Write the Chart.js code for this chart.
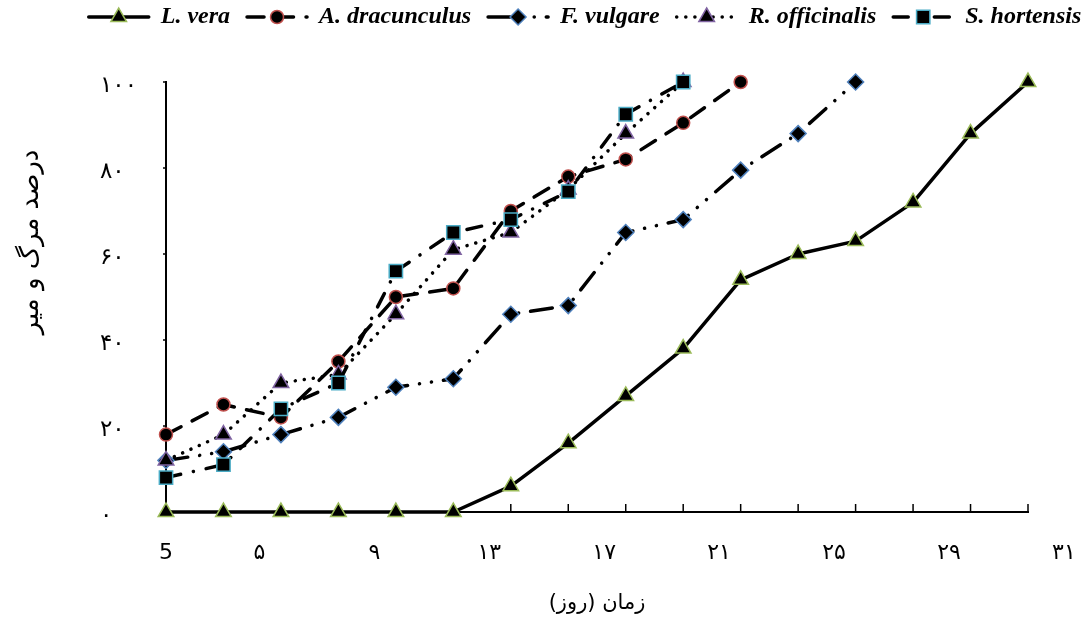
<!DOCTYPE html>
<html><head><meta charset="utf-8">
<script src="https://cdn.jsdelivr.net/npm/chart.js@4.4.1/dist/chart.umd.min.js"></script>
<style>html,body{margin:0;padding:0;background:#fff;overflow:hidden}#wrap{width:1088px;height:628px}</style>
</head><body><div id="wrap"><canvas id="c" width="1088" height="628"></canvas></div>
<script>
// ---- data ----
const days = [1,3,5,7,9,11,13,15,17,19,21,23,25,27,29,31];
const seriesNames = ['L. vera','A. dracunculus','F. vulgare','R. officinalis','S. hortensis'];
const lVera = [0,0,0,0,0,0,6,16,27,38,54,60,63,72,88,100];
const aDracunculus = [18,25,22,35,50,52,70,78,82,90.5,100];
const fVulgare = [12,14,18,22,29,31,46,48,65,68,79.5,88,100];
const rOfficinalis = [12,18,30,32,46,61,65,75,88,100];
const sHortensis = [8,11,24,30,56,65,68,74.5,92.5,100];
const xTickLabels = ['5','۵','۹','۱۳','۱۷','۲۱','۲۵','۲۹','۳۱'];
const yTickValues = [0,20,40,60,80,100];
const yTickLabels = ['۰','۲۰','۴۰','۶۰','۸۰','۱۰۰'];
const xTitle = 'زمان (روز)';
const yTitle = 'درصد مرگ و میر';

// ---- layout / style (not data) ----
const xLabelPos = [1, 4.25, 8.25, 12.25, 16.25, 20.25, 24.25, 28.25, 32.25];
const styles = [
  {color:'#9BBB59', shape:'triangle', r:9,   dash:[],                    cap:'round'},
  {color:'#C0504D', shape:'circle',   r:6.5, dash:[17,12.5],             cap:'round'},
  {color:'#4F81BD', shape:'rectRot',  r:8,   dash:[22,12,0.1,12,0.1,12], cap:'round'},
  {color:'#8064A2', shape:'triangle', r:9,   dash:[0.1,9],               cap:'round'},
  {color:'#4BACC6', shape:'rect',     r:9.4, dash:[15,13,0.1,13],        cap:'round'}
];
const valuesList = [lVera, aDracunculus, fVulgare, rOfficinalis, sHortensis];
const LEG_OFF = 12, LEG_LEN = 60;

const datasets = valuesList.map((vals, i) => ({
  label: seriesNames[i],
  data: vals.map((v, j) => ({x: days[j], y: v})),
  xAxisID: 'x', yAxisID: 'y',
  borderColor: '#000', borderWidth: 3.5, borderDash: styles[i].dash,
  borderCapStyle: styles[i].cap, borderJoinStyle: 'round',
  pointStyle: styles[i].shape, pointRadius: styles[i].r, pointHoverRadius: styles[i].r,
  pointBackgroundColor: '#000', pointBorderColor: styles[i].color, pointBorderWidth: 1.5,
  tension: 0, fill: false, clip: false, order: 5 - i
}));

const legendLines = {
  id: 'legendLines',
  afterDraw(chart) {
    const lg = chart.legend; if (!lg || !lg.legendHitBoxes) return;
    const ctx = chart.ctx;
    lg.legendHitBoxes.forEach((hb, i) => {
      const ds = chart.data.datasets[i];
      const y = hb.top + hb.height / 2;
      const x0 = hb.left + LEG_OFF, x1 = x0 + LEG_LEN;
      ctx.save();
      ctx.strokeStyle = '#000'; ctx.lineWidth = ds.borderWidth; ctx.lineCap = ds.borderCapStyle;
      ctx.setLineDash(ds.borderDash);
      ctx.beginPath(); ctx.moveTo(x0, y); ctx.lineTo(x1, y); ctx.stroke();
      ctx.setLineDash([]);
      ctx.fillStyle = '#000'; ctx.strokeStyle = ds.pointBorderColor; ctx.lineWidth = ds.pointBorderWidth;
      Chart.helpers.drawPoint(ctx, {pointStyle: ds.pointStyle, radius: ds.pointRadius, borderWidth: ds.pointBorderWidth, rotation: 0}, (x0 + x1) / 2, y);
      ctx.restore();
    });
  }
};

const tickMarks = {
  id: 'tickMarks',
  beforeDatasetsDraw(chart) {
    const {ctx, scales: {x, y}} = chart;
    ctx.save(); ctx.strokeStyle = '#000'; ctx.lineWidth = 1.5;
    x.ticks.forEach(t => { const px = x.getPixelForValue(t.value); ctx.beginPath(); ctx.moveTo(px, y.bottom); ctx.lineTo(px, y.bottom - 8); ctx.stroke(); });
    y.ticks.forEach(t => { const py = y.getPixelForValue(t.value); ctx.beginPath(); ctx.moveTo(x.left - 3, py); ctx.lineTo(x.left, py); ctx.stroke(); });
    ctx.restore();
  }
};

const shiftTitle = {
  id: 'shiftTitle',
  afterLayout(chart) {
    const s = chart.scales.yt; if (!s) return;
    const w = s.right - s.left;
    s.left = 16; s.right = 16 + w;
    s.top -= 55; s.bottom -= 55;
  }
};

const persianFont = "'DejaVu Sans', 'Noto Sans', sans-serif";

new Chart(document.getElementById('c'), {
  type: 'line',
  data: { datasets },
  plugins: [legendLines, tickMarks, shiftTitle],
  options: {
    responsive: false, animation: false, devicePixelRatio: 1,
    layout: { padding: {left: 70, right: 0, top: 0, bottom: 0} },
    plugins: {
      tooltip: {enabled: false},
      title: {display: true, text: '', font: {size: 10}, padding: {top: 0, bottom: 31}},
      legend: {
        position: 'top', align: 'center', weight: 3000,
        labels: {
          font: {family: "'Liberation Serif', 'Times New Roman', serif", size: 24, style: 'italic', weight: 'bold'},
          color: '#000', boxWidth: 72, boxHeight: 24, padding: 5,
          generateLabels: (chart) => chart.data.datasets.map((ds, i) => ({
            text: ds.label, fillStyle: 'rgba(0,0,0,0)', strokeStyle: 'rgba(0,0,0,0)', lineWidth: 0,
            hidden: false, datasetIndex: i, fontColor: '#000'
          }))
        }
      }
    },
    scales: {
      x: {
        type: 'linear', position: 'bottom', min: 1, max: 31,
        afterBuildTicks: s => { const t = []; for (let v = 1; v <= 31; v += 2) t.push({value: v}); s.ticks = t; },
        ticks: {display: false},
        grid: {display: false, drawTicks: false},
        border: {display: true, color: '#000', width: 2},
        afterFit: s => { s.height = 0; s.paddingLeft = 0; s.paddingRight = 0; }
      },
      xl: {
        type: 'linear', position: 'bottom', weight: 1, min: 1, max: 31,
        afterBuildTicks: s => { s.ticks = xLabelPos.map(v => ({value: v})); },
        ticks: {autoSkip: false, maxRotation: 0, minRotation: 0, padding: 28, color: '#000',
          font: {family: persianFont, size: 22}, callback: (v, i) => xTickLabels[i]},
        grid: {display: false, drawTicks: false},
        border: {display: false},
        title: {display: true, text: xTitle + '\u200F', color: '#000', font: {family: persianFont, size: 21}, padding: {top: 0, bottom: 12}},
        afterFit: s => { s.height = 116; s.paddingLeft = 0; s.paddingRight = 60; }
      },
      y: {
        type: 'linear', position: 'left', min: 0, max: 100,
        afterBuildTicks: s => { s.ticks = yTickValues.map(v => ({value: v})); },
        ticks: {crossAlign: 'far', color: '#000', labelOffset: 4, font: {family: persianFont, size: 23},
          callback: (v, i) => yTickLabels[i]},
        grid: {display: false, drawTicks: false},
        border: {display: true, color: '#000', width: 2},
        afterFit: s => { s.width = 66; s.paddingBottom = 0; }
      },
      yt: {
        type: 'linear', position: 'left', weight: 1,
        ticks: {display: false},
        grid: {display: false, drawTicks: false},
        border: {display: false},
        title: {display: true, text: yTitle, color: '#000', font: {family: persianFont, size: 26}, padding: 0},
        afterFit: s => { s.width = 30; }
      }
    }
  }
});
</script>
</body></html>
